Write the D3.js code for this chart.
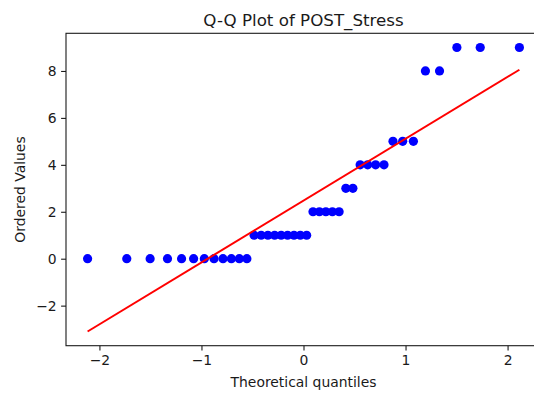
<!DOCTYPE html>
<html>
<head>
<meta charset="utf-8">
<script src="https://cdn.jsdelivr.net/npm/d3@7"></script>
<style>
  html, body { margin: 0; padding: 0; background: #fff; }
  svg { display: block; }
  text { font-family: "DejaVu Sans", sans-serif; fill: #1a1a1a; }
</style>
</head>
<body>
<svg id="chart" width="534" height="397"></svg>
<script>
// Theoretical normal quantiles (x) and sorted sample values (y), n = 40
const theoreticalQuantiles = [
  -2.116, -1.732, -1.503, -1.333, -1.195, -1.077, -0.972, -0.877, -0.789, -0.707,
  -0.629, -0.555, -0.484, -0.415, -0.349, -0.283, -0.219, -0.156, -0.093, -0.031,
   0.031,  0.093,  0.156,  0.219,  0.283,  0.349,  0.415,  0.484,  0.555,  0.629,
   0.707,  0.789,  0.877,  0.972,  1.077,  1.195,  1.333,  1.503,  1.732,  2.116
];
const orderedValues = [
  0, 0, 0, 0, 0, 0, 0, 0, 0, 0,
  0, 0, 1, 1, 1, 1, 1, 1, 1, 1,
  1, 2, 2, 2, 2, 2, 3, 3, 4, 4,
  4, 4, 5, 5, 5, 8, 8, 9, 9, 9
];
const xTicks = [-2, -1, 0, 1, 2];
const yTicks = [-2, 0, 2, 4, 6, 8];

const chartTitle = "Q-Q Plot of POST_Stress";
const xLabel = "Theoretical quantiles";
const yLabel = "Ordered Values";

// Least-squares reference line through the points
const mx = d3.mean(theoreticalQuantiles);
const my = d3.mean(orderedValues);
let sxy = 0, sxx = 0;
theoreticalQuantiles.forEach((q, i) => {
  sxy += (q - mx) * (orderedValues[i] - my);
  sxx += (q - mx) * (q - mx);
});
const slope = sxy / sxx;
const intercept = my - slope * mx;
const fitLine = d3.extent(theoreticalQuantiles).map(q => [q, slope * q + intercept]);

// Axis limits with 5% padding around everything drawn
const xExt = d3.extent(theoreticalQuantiles);
const yExt = d3.extent(orderedValues.concat(fitLine.map(d => d[1])));
const pad = (e) => { const r = e[1] - e[0]; return [e[0] - 0.05 * r, e[1] + 0.05 * r]; };

const plotLeft = 66, plotRight = 541, plotTop = 33.3, plotBottom = 345.7;

const x = d3.scaleLinear().domain(pad(xExt)).range([plotLeft, plotRight]);
const y = d3.scaleLinear().domain(pad(yExt)).range([plotBottom, plotTop]);

const svg = d3.select("#chart");

svg.append("defs").append("clipPath").attr("id", "plotArea")
  .append("rect").attr("x", plotLeft).attr("y", plotTop)
  .attr("width", plotRight - plotLeft).attr("height", plotBottom - plotTop);

const plot = svg.append("g").attr("clip-path", "url(#plotArea)");

plot.selectAll("circle.pt")
  .data(theoreticalQuantiles.map((q, i) => [q, orderedValues[i]]))
  .join("circle")
  .attr("class", "pt")
  .attr("cx", d => x(d[0]))
  .attr("cy", d => y(d[1]))
  .attr("r", 4.6)
  .attr("fill", "#0000ff");

plot.append("path")
  .datum(fitLine)
  .attr("d", d3.line().x(d => x(d[0])).y(d => y(d[1])))
  .attr("fill", "none")
  .attr("stroke", "#ff0000")
  .attr("stroke-width", 2);

// Axes
const fmt = d3.format("");
const xAxis = svg.append("g")
  .attr("transform", `translate(0,${plotBottom})`)
  .call(d3.axisBottom(x).tickValues(xTicks).tickFormat(fmt).tickSize(4.9).tickPadding(4.5));
const yAxis = svg.append("g")
  .attr("transform", `translate(${plotLeft},0)`)
  .call(d3.axisLeft(y).tickValues(yTicks).tickFormat(fmt).tickSize(4.9).tickPadding(4.5));

[xAxis, yAxis].forEach(g => {
  g.select(".domain").remove();
  g.selectAll(".tick line").attr("stroke", "#1a1a1a").attr("stroke-width", 1.1);
  g.selectAll(".tick text")
    .attr("font-family", "DejaVu Sans, sans-serif")
    .attr("font-size", 13.9)
    .attr("fill", "#1a1a1a");
});

// Frame
svg.append("rect")
  .attr("x", plotLeft).attr("y", plotTop)
  .attr("width", plotRight - plotLeft).attr("height", plotBottom - plotTop)
  .attr("fill", "none").attr("stroke", "#1a1a1a").attr("stroke-width", 1.1);

// Labels
svg.append("text")
  .attr("x", (plotLeft + plotRight) / 2).attr("y", 26)
  .attr("text-anchor", "middle")
  .attr("font-size", 16.7)
  .text(chartTitle);

svg.append("text")
  .attr("x", (plotLeft + plotRight) / 2).attr("y", 387)
  .attr("text-anchor", "middle")
  .attr("font-size", 13.9)
  .text(xLabel);

svg.append("text")
  .attr("transform", `translate(25,${(plotTop + plotBottom) / 2}) rotate(-90)`)
  .attr("text-anchor", "middle")
  .attr("font-size", 13.9)
  .text(yLabel);
</script>
</body>
</html>
